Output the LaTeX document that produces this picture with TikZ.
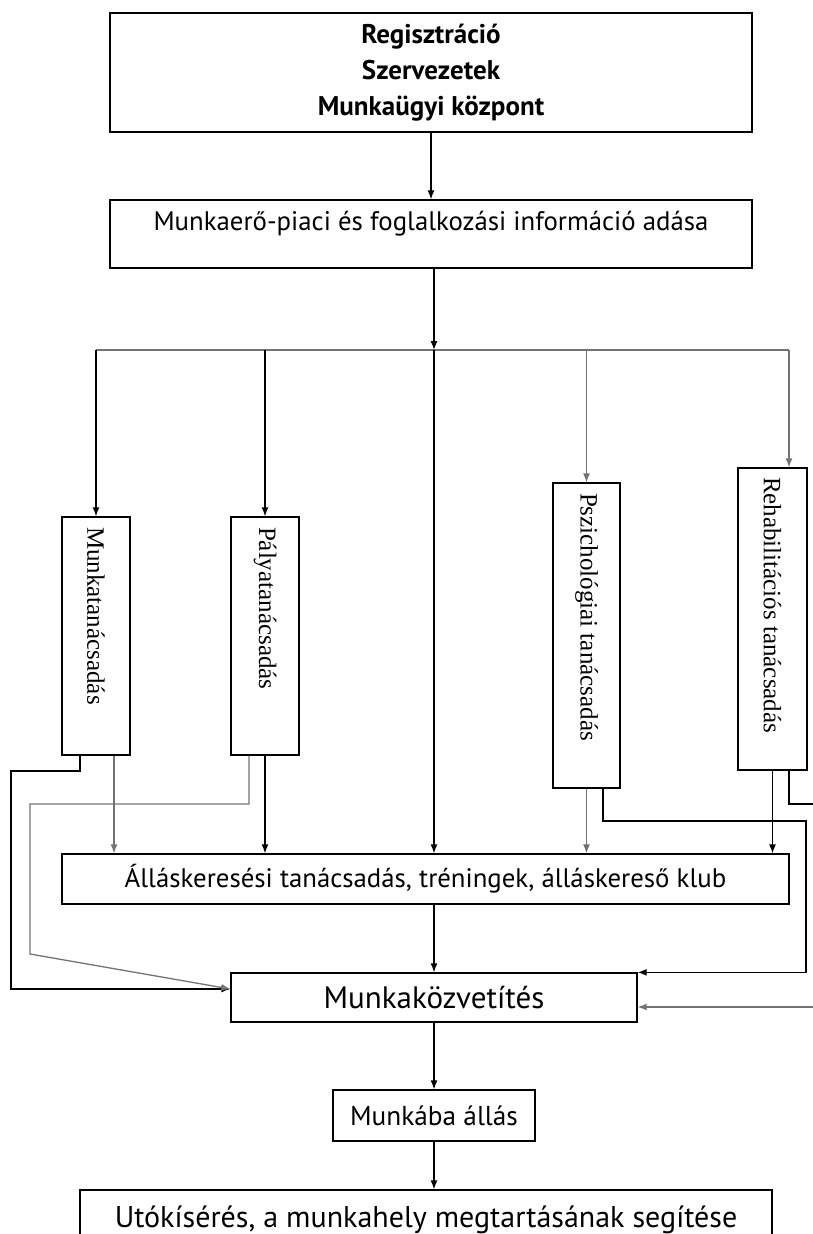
\documentclass[tikz,border=0pt]{standalone}
\usepackage{fontspec}
\usepackage{graphicx}
\setmainfont{PT Sans}
\newfontfamily\timesfont{Liberation Serif}
\usetikzlibrary{arrows.meta}
\newcommand\sidetext[2]{\rotatebox{-90}{\makebox[#1][l]{#2}}}
\tikzset{
  box/.style={draw,line width=1.3pt,inner sep=0pt,align=center},
  vbox/.style={box,minimum height=#1,font=\timesfont\fontsize{25}{27}\selectfont},
  link/.style={line width=1.3pt},
  glink/.style={link,draw=black!55},
  arr/.style={link,-{Latex[length=9pt,width=7pt]}},
  garr/.style={arr,draw=black!55}
}
\begin{document}
\begin{tikzpicture}[x=1pt,y=-1pt]
\useasboundingbox (0,0) rectangle (813,1234);
\clip (0,0) rectangle (813,1234);

\node[box,minimum width=642pt,minimum height=119pt,
  font=\bfseries\fontsize{27}{31}\selectfont] (reg) at (431,72.5)
  {Regisztráció\\[5pt]Szervezetek\\[5pt]Munkaügyi központ};
\node[box,minimum width=642pt,minimum height=68pt,text height=20pt,text depth=28pt,
  font=\fontsize{26.8}{29}\selectfont] (info) at (431,234)
  {Munkaerő-piaci és foglalkozási információ adása};

\node[vbox=238pt,minimum width=68pt] (munka) at (96,636) {\sidetext{218pt}{Munkatanácsadás}};
\node[vbox=238pt,minimum width=68pt] (palya) at (265,636) {\sidetext{218pt}{Pályatanácsadás}};
\node[vbox=305pt,minimum width=67pt] (pszi) at (586.5,635.5) {\sidetext{285pt}{Pszichológiai tanácsadás}};
\node[vbox=302pt,minimum width=69pt] (rehab) at (772.5,619) {\sidetext{284pt}{Rehabilitációs tanácsadás}};

\node[box,minimum width=727pt,minimum height=50pt,font=\fontsize{26.8}{29}\selectfont] (allas) at (425.5,879)
  {Álláskeresési tanácsadás, tréningek, álláskereső klub};
\node[box,minimum width=406pt,minimum height=49pt,font=\fontsize{31}{34}\selectfont] (kozv) at (434,997.5)
  {Munkaközvetítés};
\node[box,minimum width=202pt,minimum height=51pt,font=\fontsize{27.3}{30}\selectfont] (munkaba) at (434,1115.5)
  {Munkába állás};
\node[box,minimum width=692pt,minimum height=56pt,text height=24pt,text depth=6pt,
  font=\fontsize{30}{33}\selectfont] (uto) at (426,1218)
  {Utókísérés, a munkahely megtartásának segítése};

\coordinate (split) at (434,350);
\coordinate (busL) at (96,350);
\coordinate (busR) at (789,350);
\draw[arr] (reg.south) -- (info.north);
\draw[arr] (info.south -| split) -- (split);
\draw[glink] (busL) -- (busR);
\draw[arr] (busL) -- (munka.north);
\draw[arr] (palya.north |- split) -- (palya.north);
\draw[garr] (pszi.north |- split) -- (pszi.north);
\draw[garr] (busR) -- (busR |- rehab.north);
\draw[arr] (split) -- (allas.north -| split);

\coordinate (m1) at ([xshift=18pt]munka.south);
\coordinate (m2) at ([xshift=-16pt]munka.south);
\coordinate (p1) at ([xshift=-16pt]palya.south);
\coordinate (s1) at ([xshift=16.5pt]pszi.south);
\coordinate (r1) at ([xshift=16.5pt]rehab.south);
\draw[garr] (m1) -- (allas.north -| m1);
\draw[arr] (palya.south) -- (allas.north -| palya.south);
\draw[garr] (pszi.south) -- (allas.north -| pszi.south);
\draw[arr] (rehab.south) -- (allas.north -| rehab.south);

\coordinate (kin) at ([yshift=8.5pt]kozv.west);
\coordinate (leftA) at (11,771);
\coordinate (leftB) at (30,804);
\coordinate (leftC) at (30,954);
\coordinate (rightA) at (806,821);
\coordinate (rightB) at (820,804);
\coordinate (rightC) at (820,1007);
\draw[arr] (m2) |- (leftA) |- (kin);
\draw[garr] (p1) |- (leftB) -- (leftC) -- (kin);
\draw[arr] (s1) |- (rightA) |- (kozv.north east);
\draw[link] (r1) |- (rightB);
\draw[garr] (rightC) -- (rightC -| kozv.east);

\draw[arr] (allas.south -| kozv.north) -- (kozv.north);
\draw[arr] (kozv.south) -- (munkaba.north);
\draw[arr] (munkaba.south) -- (munkaba.south |- uto.north);
\end{tikzpicture}
\end{document}
